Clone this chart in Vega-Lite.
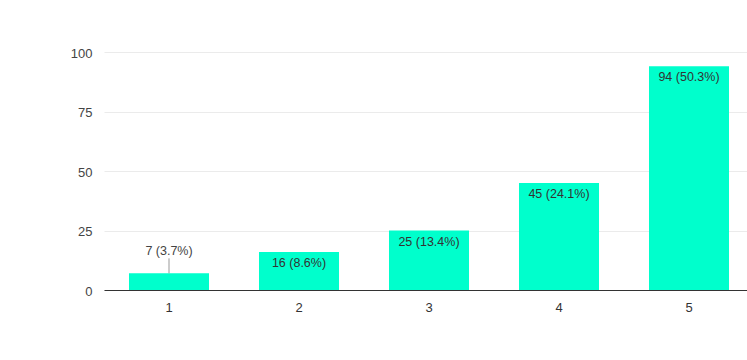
{
  "$schema": "https://vega.github.io/schema/vega-lite/v6.json",
  "autosize": "none",
  "padding": {"left": 104, "top": 52, "right": 0, "bottom": 70},
  "width": 650,
  "height": 238,
  "background": "white",
  "data": {
    "values": [
      {"rating": "1", "count": 7, "label": "7 (3.7%)"},
      {"rating": "2", "count": 16, "label": "16 (8.6%)"},
      {"rating": "3", "count": 25, "label": "25 (13.4%)"},
      {"rating": "4", "count": 45, "label": "45 (24.1%)"},
      {"rating": "5", "count": 94, "label": "94 (50.3%)"}
    ]
  },
  "encoding": {
    "x": {
      "field": "rating",
      "type": "ordinal",
      "scale": {"paddingInner": 0.3846, "paddingOuter": 0.1923},
      "axis": {
        "title": null,
        "labelAngle": 0,
        "ticks": false,
        "domain": true,
        "domainColor": "#333333",
        "domainWidth": 1,
        "labelPadding": 11,
        "labelColor": "#333333",
        "grid": false
      }
    },
    "y": {
      "field": "count",
      "type": "quantitative",
      "scale": {"domain": [0, 100], "nice": false},
      "axis": {
        "title": null,
        "values": [0, 25, 50, 75, 100],
        "ticks": false,
        "domain": false,
        "grid": true,
        "gridColor": "#ebebeb",
        "gridWidth": 1,
        "labelPadding": 12,
        "labelColor": "#444444",
        "labelOffset": 1
      }
    }
  },
  "layer": [
    {"mark": {"type": "bar", "color": "#00ffcc"}},
    {
      "transform": [{"filter": "datum.count >= 10"}],
      "mark": {"type": "text", "baseline": "top", "dy": 5, "color": "#333333", "fontSize": 12.5},
      "encoding": {"text": {"field": "label"}}
    },
    {
      "transform": [{"filter": "datum.count < 10"}],
      "mark": {"type": "text", "baseline": "alphabetic", "dy": -18, "color": "#444444", "fontSize": 12.5},
      "encoding": {"text": {"field": "label"}}
    },
    {
      "transform": [{"filter": "datum.count < 10"}],
      "mark": {"type": "rule", "color": "#999999", "strokeWidth": 1, "y2Offset": -15},
      "encoding": {"y2": {"field": "count"}}
    }
  ],
  "config": {
    "view": {"stroke": null},
    "font": "Liberation Sans, Arial, sans-serif",
    "axis": {"labelFont": "Liberation Sans, Arial, sans-serif", "labelFontSize": 13},
    "text": {"font": "Liberation Sans, Arial, sans-serif"}
  }
}
